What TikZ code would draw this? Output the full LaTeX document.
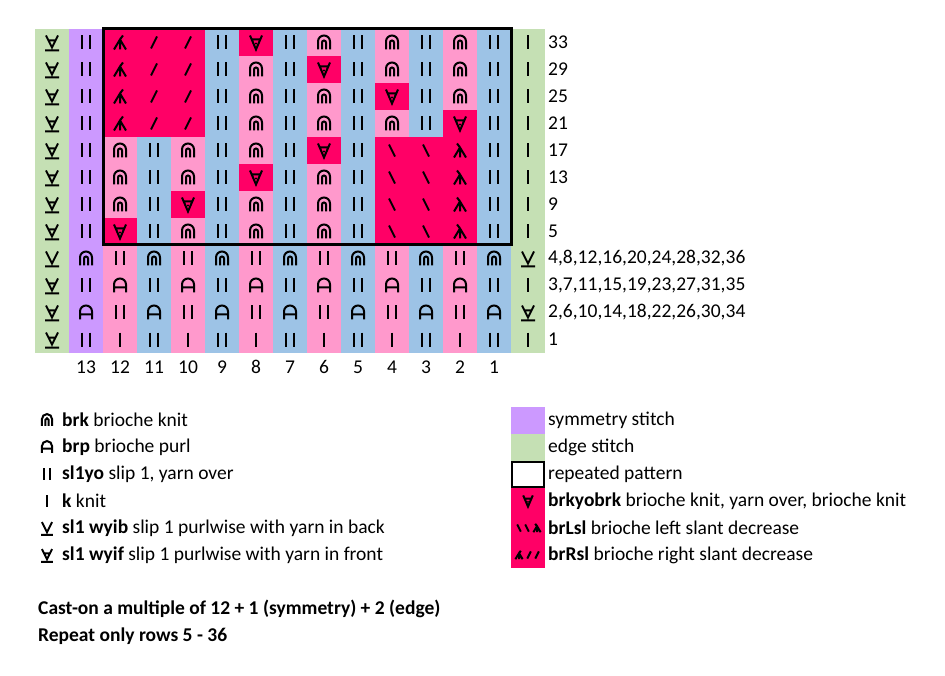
\documentclass[tikz,border=0pt]{standalone}
\usepackage{fontspec}
\setmainfont{Carlito}
\usetikzlibrary{positioning}
\definecolor{brpink}{HTML}{FF99CC}
\definecolor{brblue}{HTML}{9DC3E6}
\definecolor{dec}{HTML}{FF0066}
\definecolor{edge}{HTML}{C5E0B4}
\definecolor{sym}{HTML}{CC99FF}
\tikzset{
  sy/.style={line width=2pt,black},
  lab/.style={anchor=west,inner sep=0pt,font=\fontsize{19.5}{22}\selectfont},
}
% stitch symbols, drawn round the cell centre (y points down)
\newcommand\symk{\draw[sy] (0,-7)--(0,7);}
\newcommand\symt{\draw[sy] (-4,-7)--(-4,7) (4,-7)--(4,7);}
\newcommand\symn{\draw[sy] (-6,7)--(-6,-1) arc(180:360:6)--(6,7) (-2,7)--(-2,0) arc(180:360:2)--(2,7);}
\newcommand\symp{\draw[sy] (-6,7)--(-6,-1) arc(180:360:6)--(6,7) (-6,2)--(6,2);}
\newcommand\symv{\draw[sy] (-6,-7)--(0,5)--(6,-7) (-7,8)--(7,8);}
\newcommand\symf{\draw[sy] (-6,-7)--(0,5)--(6,-7) (-7,8)--(7,8) (-4,-2)--(4,-2);}
\newcommand\symy{\draw[sy] (-6,-7)--(0,7)--(6,-7) (-4,-3)--(4,-3); \fill (0,1) circle (1.2);}
\newcommand\syms{\draw[sy] (-3,6)--(3,-6);}
\newcommand\symb{\draw[sy] (-3,-6)--(3,6);}
\newcommand\symr{\draw[sy] (-6,7)--(0,-3)--(6,7) (0,-3)--(0,7) (0,-3)--(3,-7);}
\newcommand\syml{\draw[sy] (-6,7)--(0,-3)--(6,7) (0,-3)--(0,7) (0,-3)--(-3,-7);}
\begin{document}
\begin{tikzpicture}[x=1pt,y=-1pt]
\useasboundingbox[fill=white] (0,0) rectangle (945,676);
% chart
\foreach \lab/\cells [count=\r from 0] in {
  33/{f,t,r,s,s,t,y,t,n,t,n,t,n,t,k},
  29/{f,t,r,s,s,t,n,t,y,t,n,t,n,t,k},
  25/{f,t,r,s,s,t,n,t,n,t,y,t,n,t,k},
  21/{f,t,r,s,s,t,n,t,n,t,n,t,y,t,k},
  17/{f,t,n,t,n,t,n,t,y,t,b,b,l,t,k},
  13/{f,t,n,t,n,t,y,t,n,t,b,b,l,t,k},
  9/{f,t,n,t,y,t,n,t,n,t,b,b,l,t,k},
  5/{f,t,y,t,n,t,n,t,n,t,b,b,l,t,k},
  {4,8,12,16,20,24,28,32,36}/{v,n,t,n,t,n,t,n,t,n,t,n,t,n,v},
  {3,7,11,15,19,23,27,31,35}/{f,t,p,t,p,t,p,t,p,t,p,t,p,t,k},
  {2,6,10,14,18,22,26,30,34}/{f,p,t,p,t,p,t,p,t,p,t,p,t,p,f},
  1/{f,t,k,t,k,t,k,t,k,t,k,t,k,t,k}}{
  \foreach \s [count=\c from 0] in \cells {
    \ifnum\c=0 \def\cc{edge}\else\ifnum\c=14 \def\cc{edge}\else
    \ifnum\c=1 \def\cc{sym}\else\ifodd\c \def\cc{brblue}\else\def\cc{brpink}\fi\fi\fi\fi
    \if y\s\def\cc{dec}\fi \if r\s\def\cc{dec}\fi \if l\s\def\cc{dec}\fi
    \if s\s\def\cc{dec}\fi \if b\s\def\cc{dec}\fi
    \fill[\cc] (35+34*\c,29+27*\r) rectangle ++(34.4,27.4);
    \begin{scope}[shift={(52+34*\c,42.5+27*\r)}]
      \csname sym\s\endcsname
    \end{scope}
  }
  \node[lab] (row\r) at (548,42.5+27*\r) {\lab};
}
\draw[line width=3pt] (103,29) rectangle (511,245);
\foreach \n [count=\i from 0] in {13,12,...,1}
  \node[font=\fontsize{19.5}{22}\selectfont] (col\n) at (86+34*\i,367) {\n};
% legend, left
\foreach \s/\t [count=\i from 0] in {
  n/{\textbf{brk} brioche knit},
  p/{\textbf{brp} brioche purl},
  t/{\textbf{sl1yo} slip 1, yarn over},
  k/{\textbf{k} knit},
  v/{\textbf{sl1 wyib} slip 1 purlwise with yarn in back},
  f/{\textbf{sl1 wyif} slip 1 purlwise with yarn in front}}{
  \begin{scope}[shift={(47,420+27*\i)},scale=0.85]
    \csname sym\s\endcsname
  \end{scope}
  \node[lab] (key\i) at (62,420+27*\i) {\t};
}
% legend, right
\fill[sym] (511,407) rectangle (545,434);
\fill[edge] (511,434) rectangle (545,461);
\draw[line width=2pt] (512,462) rectangle (544,487);
\fill[dec] (511,488) rectangle (545,568);
\begin{scope}[shift={(528,501)},scale=0.8] \symy \end{scope}
\begin{scope}[shift={(519,528)},scale=0.6] \symb \end{scope}
\begin{scope}[shift={(527,528)},scale=0.6] \symb \end{scope}
\begin{scope}[shift={(537,528)},scale=0.6] \syml \end{scope}
\begin{scope}[shift={(519,555)},scale=0.6] \symr \end{scope}
\begin{scope}[shift={(529,555)},scale=0.6] \syms \end{scope}
\begin{scope}[shift={(537,555)},scale=0.6] \syms \end{scope}
\foreach \t [count=\i from 0] in {
  symmetry stitch, edge stitch, repeated pattern,
  {\textbf{brkyobrk} brioche knit, yarn over, brioche knit},
  {\textbf{brLsl} brioche left slant decrease},
  {\textbf{brRsl} brioche right slant decrease}}
  \node[lab] (note\i) at (548,420+27*\i) {\t};
\node[lab,font=\bfseries\fontsize{19.5}{22}\selectfont] (caston) at (38,609) {Cast-on a multiple of 12 + 1 (symmetry) + 2 (edge)};
\node[lab,font=\bfseries\fontsize{19.5}{22}\selectfont] (repeat) at (38,636) {Repeat only rows 5 - 36};
\end{tikzpicture}
\end{document}
